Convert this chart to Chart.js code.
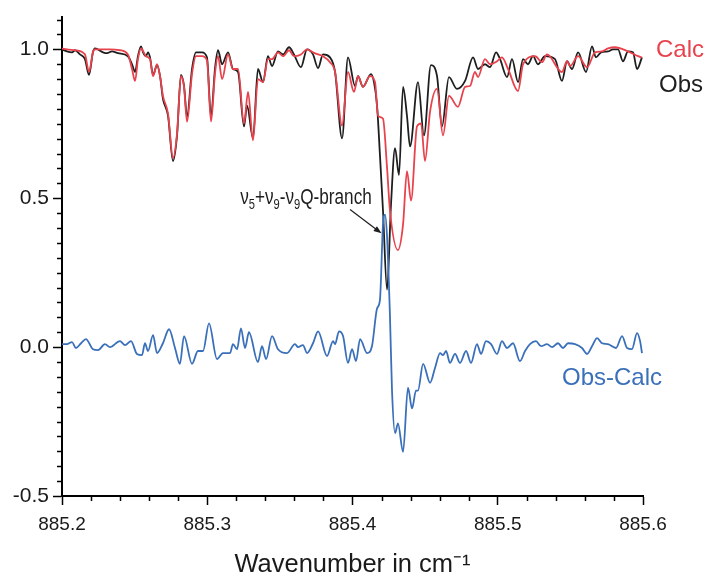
<!DOCTYPE html>
<html><head><meta charset="utf-8">
<script src="https://cdn.jsdelivr.net/npm/chart.js@4.4.0/dist/chart.umd.min.js"></script>
<style>
html,body{margin:0;padding:0;background:#fff;}
#wrap{position:relative;width:704px;height:580px;overflow:hidden;}
.lbl{position:absolute;font-family:'Liberation Sans',Arial,sans-serif;white-space:nowrap;line-height:1;}
.lbl sub{font-size:65%;vertical-align:-0.35em;line-height:0;}
#lQ{transform:scaleX(0.78);transform-origin:right top;}
</style></head><body>
<div id="wrap"><canvas id="c" width="704" height="580"></canvas>
<div class="lbl" id="lCalc" style="left:656px;top:37px;font-size:24px;color:#e8434d">Calc</div>
<div class="lbl" id="lObs" style="left:659px;top:72px;font-size:24px;color:#1e1e1e">Obs</div>
<div class="lbl" id="lDiff" style="left:562px;top:365px;font-size:24px;color:#3a70b9">Obs-Calc</div>
<div class="lbl" id="lQ" style="right:332px;top:186px;font-size:22px;color:#1e1e1e">ν<sub>5</sub>+ν<sub>9</sub>-ν<sub>9</sub>Q-branch</div>
</div>
<script>
const xTickValues = [885.2, 885.3, 885.4, 885.5, 885.6];
const yTickValues = [-0.5, 0.0, 0.5, 1.0];
const seriesNames = ['Calc', 'Obs', 'Obs-Calc'];

const obsX = [
885.2000,885.2034,885.2069,885.2090,885.2124,885.2158,885.2186,885.2213,885.2227,885.2282,
885.2310,885.2344,885.2386,885.2454,885.2482,885.2503,885.2523,885.2544,885.2558,885.2578,
885.2592,885.2606,885.2627,885.2654,885.2675,885.2695,885.2730,885.2764,885.2792,885.2819,
885.2840,885.2861,885.2895,885.2923,885.2964,885.2998,885.3026,885.3053,885.3074,885.3102,
885.3143,885.3177,885.3212,885.3253,885.3274,885.3315,885.3349,885.3384,885.3418,885.3446,
885.3487,885.3522,885.3563,885.3597,885.3645,885.3687,885.3728,885.3763,885.3797,885.3845,
885.3880,885.3928,885.3969,885.4017,885.4038,885.4072,885.4127,885.4148,885.4169,885.4189,
885.4210,885.4238,885.4265,885.4293,885.4320,885.4348,885.4375,885.4396,885.4451,885.4492,
885.4540,885.4582,885.4616,885.4664,885.4719,885.4775,885.4830,885.4864,885.4912,885.4947,
885.4988,885.5016,885.5064,885.5098,885.5140,885.5174,885.5208,885.5243,885.5277,885.5325,
885.5394,885.5442,885.5477,885.5511,885.5553,885.5608,885.5649,885.5676,885.5711,885.5759,
885.5793,885.5828,885.5862,885.5897,885.5931,885.5959,885.5993];
const obsY = [
1.000,0.993,0.990,0.997,0.983,0.967,0.914,0.990,1.003,0.990,
0.987,0.993,0.987,0.977,0.950,0.924,0.977,1.010,0.990,0.977,
0.990,0.973,0.914,0.947,0.910,0.834,0.777,0.625,0.711,0.914,
0.877,0.774,0.934,0.990,0.990,0.973,0.774,0.934,0.997,0.950,
0.990,0.934,0.924,0.741,0.811,0.701,0.934,0.890,0.977,0.944,
0.993,0.983,1.007,0.983,0.940,1.000,0.983,0.937,0.983,0.973,
0.924,0.701,0.973,0.877,0.910,0.874,0.917,0.890,0.811,0.645,
0.458,0.193,0.478,0.668,0.578,0.874,0.777,0.674,0.890,0.711,
0.947,0.910,0.741,0.907,0.867,0.894,0.973,0.934,0.950,0.940,
0.990,0.967,0.907,0.967,0.890,0.967,0.950,0.977,0.950,0.977,
0.967,0.894,0.960,0.934,0.990,0.924,1.010,0.973,0.990,0.993,
1.000,1.000,0.960,0.993,0.990,0.934,0.973];

const calcX = [
885.2000,885.2034,885.2090,885.2158,885.2186,885.2213,885.2227,885.2330,885.2399,885.2454,
885.2482,885.2503,885.2523,885.2544,885.2578,885.2606,885.2627,885.2654,885.2675,885.2695,
885.2730,885.2764,885.2792,885.2819,885.2840,885.2861,885.2895,885.2923,885.2964,885.2998,
885.3026,885.3053,885.3074,885.3102,885.3143,885.3177,885.3212,885.3253,885.3281,885.3315,
885.3349,885.3384,885.3418,885.3446,885.3487,885.3522,885.3563,885.3597,885.3645,885.3687,
885.3728,885.3763,885.3797,885.3845,885.3880,885.3928,885.3969,885.4010,885.4038,885.4072,
885.4120,885.4155,885.4176,885.4210,885.4238,885.4258,885.4313,885.4348,885.4375,885.4403,
885.4444,885.4472,885.4499,885.4534,885.4582,885.4623,885.4664,885.4726,885.4775,885.4809,
885.4843,885.4864,885.4912,885.4947,885.4995,885.5029,885.5071,885.5140,885.5174,885.5257,
885.5305,885.5339,885.5442,885.5477,885.5498,885.5553,885.5615,885.5670,885.5718,885.5759,
885.5807,885.5897,885.5966,885.5993];
const calcY = [
1.003,1.000,0.997,0.983,0.924,0.990,1.000,1.000,0.997,0.983,
0.934,0.894,0.967,1.003,0.977,0.967,0.910,0.950,0.910,0.844,
0.784,0.635,0.718,0.910,0.874,0.757,0.917,0.977,0.977,0.963,
0.757,0.917,0.977,0.900,0.983,0.934,0.934,0.751,0.857,0.694,
0.900,0.890,0.967,0.967,0.990,0.977,0.997,0.977,0.983,1.000,
0.990,0.983,0.977,0.957,0.924,0.744,0.924,0.857,0.910,0.874,
0.910,0.890,0.777,0.767,0.601,0.458,0.326,0.412,0.591,0.492,
0.741,0.751,0.625,0.791,0.867,0.711,0.844,0.807,0.874,0.877,
0.924,0.907,0.967,0.950,0.960,0.973,0.934,0.860,0.950,0.977,
0.957,0.983,0.924,0.960,0.944,0.977,0.940,0.990,0.993,1.003,
1.007,0.993,0.977,0.973];

const diffX = [
885.2000,885.2034,885.2069,885.2096,885.2131,885.2165,885.2213,885.2248,885.2296,885.2330,
885.2399,885.2434,885.2475,885.2516,885.2551,885.2571,885.2592,885.2627,885.2654,885.2695,
885.2737,885.2778,885.2812,885.2840,885.2895,885.2936,885.2971,885.3012,885.3067,885.3108,
885.3157,885.3177,885.3205,885.3232,885.3260,885.3287,885.3349,885.3377,885.3405,885.3446,
885.3487,885.3549,885.3604,885.3625,885.3659,885.3687,885.3728,885.3763,885.3825,885.3866,
885.3880,885.3907,885.3935,885.3969,885.3997,885.4024,885.4052,885.4100,885.4134,885.4169,
885.4189,885.4210,885.4224,885.4238,885.4258,885.4272,885.4293,885.4313,885.4348,885.4382,
885.4410,885.4437,885.4451,885.4486,885.4534,885.4568,885.4603,885.4623,885.4644,885.4671,
885.4706,885.4740,885.4782,885.4816,885.4857,885.4885,885.4919,885.4954,885.4995,885.5029,
885.5064,885.5105,885.5153,885.5188,885.5222,885.5263,885.5298,885.5339,885.5374,885.5415,
885.5449,885.5484,885.5532,885.5580,885.5615,885.5649,885.5684,885.5718,885.5759,885.5814,
885.5856,885.5890,885.5924,885.5959,885.5980,885.5993];
const diffY = [
0.010,0.010,0.017,-0.003,0.013,0.027,-0.007,-0.010,0.010,0.000,
0.020,0.007,0.020,-0.023,-0.027,0.013,-0.013,0.040,-0.020,0.013,
0.060,-0.003,-0.056,0.037,-0.056,-0.013,-0.013,0.080,-0.040,-0.020,
-0.020,0.010,-0.007,0.063,-0.003,0.050,-0.050,0.003,-0.040,0.037,
-0.007,-0.020,0.010,0.000,0.007,-0.020,0.013,0.053,-0.030,0.020,
0.010,0.053,0.037,-0.053,-0.007,-0.047,0.027,-0.020,0.003,0.130,
0.159,0.412,0.445,0.369,0.103,-0.146,-0.289,-0.256,-0.352,-0.136,
-0.206,-0.146,-0.146,-0.056,-0.120,-0.070,-0.020,-0.027,-0.013,-0.053,
-0.023,-0.053,-0.013,-0.053,0.010,-0.023,0.020,0.010,-0.023,0.020,
-0.003,0.013,-0.047,-0.013,0.010,0.020,0.003,0.010,0.000,0.013,
-0.003,0.013,0.010,-0.003,-0.023,0.003,0.030,0.013,0.010,-0.003,
0.037,-0.003,-0.007,0.047,0.020,-0.020];

const arrowFrom = [885.3983, 0.462];
const arrowTo = [885.4200, 0.382];

function pts(xs, ys) { return xs.map((x, i) => ({ x: x, y: ys[i] })); }

const minorTicks = {
  id: 'minorTicks',
  afterDraw(chart) {
    const ctx = chart.ctx, x = chart.scales.x, y = chart.scales.y;
    ctx.save();
    ctx.strokeStyle = '#000';
    ctx.lineWidth = 1.5;
    ctx.beginPath();
    for (let k = 0; k <= 20; k++) {
      if (k % 5 === 0) continue;
      const px = Math.round(x.getPixelForValue(885.2 + k * 0.02)) + 0.5;
      ctx.moveTo(px, x.top); ctx.lineTo(px, x.top + 5);
    }
    for (let k = 0; k <= 32; k++) {
      if (k % 10 === 0) continue;
      const py = Math.round(y.getPixelForValue(-0.5 + k * 0.05)) + 0.5;
      ctx.moveTo(y.right, py); ctx.lineTo(y.right - 5, py);
    }
    ctx.stroke();
    const x0 = x.getPixelForValue(arrowFrom[0]), y0 = y.getPixelForValue(arrowFrom[1]);
    const x1 = x.getPixelForValue(arrowTo[0]), y1 = y.getPixelForValue(arrowTo[1]);
    const ang = Math.atan2(y1 - y0, x1 - x0);
    ctx.strokeStyle = '#1e1e1e'; ctx.fillStyle = '#1e1e1e'; ctx.lineWidth = 1.2;
    ctx.beginPath(); ctx.moveTo(x0, y0);
    ctx.lineTo(x1 - 6 * Math.cos(ang), y1 - 6 * Math.sin(ang)); ctx.stroke();
    ctx.beginPath();
    ctx.moveTo(x1, y1);
    ctx.lineTo(x1 - 8 * Math.cos(ang) + 3 * Math.sin(ang), y1 - 8 * Math.sin(ang) - 3 * Math.cos(ang));
    ctx.lineTo(x1 - 8 * Math.cos(ang) - 3 * Math.sin(ang), y1 - 8 * Math.sin(ang) + 3 * Math.cos(ang));
    ctx.closePath(); ctx.fill();
    ctx.restore();
  }
};

const fam = "'Liberation Sans',Arial,sans-serif";

new Chart(document.getElementById('c'), {
  type: 'line',
  data: {
    datasets: [
      { label: seriesNames[2], data: pts(diffX, diffY), borderColor: '#3a70b9', borderWidth: 1.8 },
      { label: seriesNames[0], data: pts(calcX, calcY), borderColor: '#e8434d', borderWidth: 1.8 },
      { label: seriesNames[1], data: pts(obsX, obsY), borderColor: '#1e1e1e', borderWidth: 1.8 }
    ]
  },
  options: {
    responsive: false,
    animation: false,
    devicePixelRatio: 1,
    elements: { point: { radius: 0 }, line: { tension: 0.4, cubicInterpolationMode: 'monotone' } },
    layout: { padding: { top: 12, right: 61, bottom: 0, left: 0 } },
    plugins: { legend: { display: false }, tooltip: { enabled: false } },
    scales: {
      x: {
        type: 'linear', min: 885.2, max: 885.6,
        afterBuildTicks: s => { s.ticks = xTickValues.map(v => ({ value: v })); },
        afterFit: s => { s.height = 84; },
        border: { display: true, color: '#000', width: 2 },
        grid: { display: true, drawOnChartArea: false, drawTicks: true, tickLength: 9, tickWidth: 1.5, tickColor: '#000' },
        ticks: { color: '#1a1a1a', font: { family: fam, size: 19 }, padding: 8, maxRotation: 0, autoSkip: false,
          callback: v => Number(v).toFixed(1) },
        title: { display: true, text: 'Wavenumber in cm\u207B\u00B9', color: '#1a1a1a',
          font: { family: fam, size: 25.5 }, padding: { top: 0, bottom: 0 } }
      },
      y: {
        type: 'linear', min: -0.5, max: 1.11,
        afterBuildTicks: s => { s.ticks = yTickValues.map(v => ({ value: v })); },
        afterFit: s => { s.width = 62; },
        border: { display: true, color: '#000', width: 2 },
        grid: { display: true, drawOnChartArea: false, drawTicks: true, tickLength: 9, tickWidth: 1.5, tickColor: '#000' },
        ticks: { color: '#1a1a1a', font: { family: fam, size: 21 }, padding: 4,
          callback: v => Number(v).toFixed(1) }
      }
    }
  },
  plugins: [minorTicks]
});
</script>
</body></html>
